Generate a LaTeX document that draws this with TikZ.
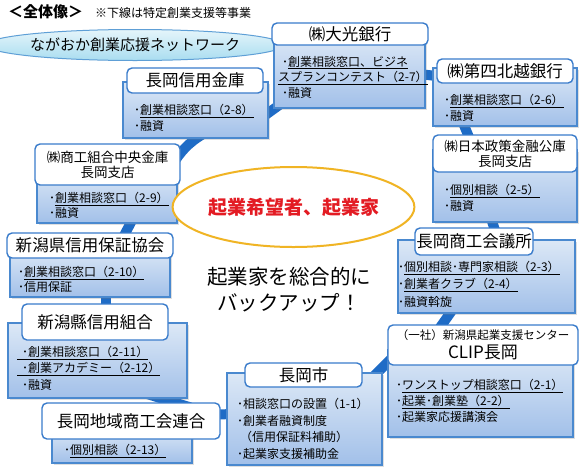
\documentclass[tikz,border=0pt]{standalone}
\usepackage{fontspec}
\setmainfont{Noto Sans CJK JP}
\usetikzlibrary{backgrounds,shadows,shapes.geometric}

\definecolor{bandblue}{HTML}{1F6CC6}
\definecolor{boxline}{HTML}{4A89CF}
\definecolor{bodytop}{HTML}{DCE8F6}
\definecolor{bodybot}{HTML}{A2C0E9}
\definecolor{tabline}{HTML}{3A7CCB}
\definecolor{netfill}{HTML}{A9DDF0}
\definecolor{netline}{HTML}{5E9FD6}
\definecolor{goldline}{HTML}{F0B424}
\definecolor{redtext}{HTML}{E31B23}

\newcommand{\fsz}[2]{\fontsize{#1}{#2}\selectfont}

\begin{document}
\begin{tikzpicture}[x=1pt, y=-1pt,
    body/.style={rectangle, draw=boxline, line width=1.1pt, top color=bodytop, bottom color=bodybot, inner sep=0pt,
        drop shadow={opacity=0.25, shadow xshift=1.5pt, shadow yshift=-1.5pt}},
    head/.style={rectangle, rounded corners=5pt, draw=tabline, line width=1.4pt, fill=white, inner sep=0pt, align=center, font=\fsz{16.5}{19}},
    items/.style={anchor=north west, inner sep=0pt, align=left, font=\fsz{12}{16.5}},
    band/.style={draw=bandblue, line width=10pt}
    ]
    \useasboundingbox (0,0) rectangle (580,469);

    \node[anchor=west, inner sep=0pt, font=\fsz{15}{18}\bfseries] (overview) at (8,12) {＜全体像＞};
    \node[anchor=west, inner sep=0pt, font=\fsz{12}{14}] (note) at (95,13) {※下線は特定創業支援等事業};
    \node[ellipse, draw=netline, line width=1pt, top color=white!70!netfill, bottom color=netfill, minimum width=246, minimum height=31, inner sep=0pt, font=\fsz{15}{18}] (net) at (135,45) {ながおか創業応援ネットワーク};

    \node[body, minimum width=145, minimum height=56] (shinkin) at (195.5,110) {};
    \node[head, minimum width=136, minimum height=25] (shinkin-hd) at (195,80.5) {長岡信用金庫};
    \node[items] (shinkin-tx) at (134,104) {･\underline{創業相談窓口（2-8）}\\･融資};

    \node[body, minimum width=151, minimum height=73] (taiko) at (349.5,71.5) {};
    \node[head, minimum width=156, minimum height=22] (taiko-hd) at (350,34) {㈱大光銀行};
    \node[items, font=\fsz{12}{15.5}] (taiko-tx) at (278,56) {\hspace*{4pt}･\underline{創業相談窓口、ビジネ}\\\underline{スプランコンテスト（2-7）}\\\hspace*{4pt}･融資};

    \node[body, minimum width=144, minimum height=58] (daishi) at (505,97) {};
    \node[head, minimum width=136, minimum height=24] (daishi-hd) at (505,71) {㈱第四北越銀行};
    \node[items] (daishi-tx) at (444,94) {･\underline{創業相談窓口（2-6）}\\･融資};

    \node[body, minimum width=144, minimum height=72] (koko) at (505,186) {};
    \node[head, minimum width=144, minimum height=37, font=\fsz{13.5}{15}] (koko-hd) at (505,153.5) {㈱日本政策金融公庫\\長岡支店};
    \node[items] (koko-tx) at (444,184) {･\underline{個別相談（2-5）}\\･融資};

    \node[body, minimum width=177, minimum height=73] (cci) at (486.5,276.5) {};
    \node[head, minimum width=118, minimum height=27] (cci-hd) at (474,241.5) {長岡商工会議所};
    \node[items, font=\fsz{12}{17.5}] (cci-tx) at (398,261) {･\underline{個別相談･専門家相談（2-3）}\\･\underline{創業者クラブ（2-4）}\\･融資斡旋};

    \node[body, minimum width=185, minimum height=87] (clip) at (480.5,393.5) {};
    \node[head, minimum width=190, minimum height=40] (clip-hd) at (483,345) {{\fsz{11.5}{15}（一社）新潟県起業支援センター}\\{\fsz{17}{17}CLIP長岡}};
    \node[items, font=\fsz{12}{16}] (clip-tx) at (396,379) {･\underline{ワンストップ相談窓口（2-1）}\\･\underline{起業･創業塾（2-2）}\\･起業家応援講演会};

    \node[body, minimum width=155, minimum height=92] (city) at (304.5,419) {};
    \node[head, minimum width=117, minimum height=24] (city-hd) at (303.5,375) {長岡市};
    \node[items, font=\fsz{12}{16.7}] (city-tx) at (237,398) {･相談窓口の設置（1-1）\\･創業者融資制度\\\hspace*{3pt}（信用保証料補助）\\･起業家支援補助金};

    \node[body, minimum width=140, minimum height=35] (rengo) at (122,445.5) {};
    \node[head, minimum width=178, minimum height=36] (rengo-hd) at (131,421) {長岡地域商工会連合};
    \node[items] (rengo-tx) at (64,444) {･\underline{個別相談（2-13）}};

    \node[body, minimum width=179, minimum height=75] (kenshin) at (97.5,360.5) {};
    \node[head, minimum width=146, minimum height=36] (kenshin-hd) at (95,322) {新潟縣信用組合};
    \node[items] (kenshin-tx) at (17,346) {\underline{\hspace*{5pt}･創業相談窓口（2-11）}\\\underline{\hspace*{5pt}･創業アカデミー（2-12）}\\\hspace*{5pt}･融資};

    \node[body, minimum width=160, minimum height=49] (hosho) at (90,272.5) {};
    \node[head, minimum width=166, minimum height=25] (hosho-hd) at (90,245.5) {新潟県信用保証協会};
    \node[items, font=\fsz{12}{15}] (hosho-tx) at (18,266) {･\underline{創業相談窓口（2-10）}\\･信用保証};

    \node[body, minimum width=140, minimum height=53] (shoko) at (107,196.5) {};
    \node[head, minimum width=145, minimum height=41, font=\fsz{13.5}{15}] (shoko-hd) at (107.5,164.5) {㈱商工組合中央金庫\\長岡支店};
    \node[items, font=\fsz{12}{15}] (shoko-tx) at (49,192) {･\underline{創業相談窓口（2-9）}\\･融資};

    \node[ellipse, draw=goldline, line width=2pt, fill=white, minimum width=196, minimum height=80, inner sep=0pt, font=\fsz{19}{22}\bfseries, text=redtext] (seeker) at (293.5,207) {起業希望者、起業家};
    \node[align=center, inner sep=0pt, font=\fsz{20.5}{26}] (backup) at (289,290) {起業家を総合的に\\バックアップ！};

    \begin{scope}[on background layer]
      \fill[white] (0,0) rectangle (580,469);
      \draw[band] ([shift={(-10,10)}]shinkin.east) -- ([shift={(12,-8)}]taiko.south west);
      \draw[band] ([shift={(-10,2)}]taiko.east) -- ([shift={(12,-20)}]daishi.west);
      \draw[band] ([shift={(-45,-11)}]daishi.south) -- ([shift={(-33,-5)}]koko.north);
      \draw[band] ([shift={(-15,-7)}]koko.south) -- ([shift={(10,-5)}]cci.north);
      \draw[band] ([shift={(-31,-8)}]cci.south) -- ([shift={(-44,-17)}]clip.north);
      \draw[band] ([shift={(-12,7)}]city.north east) -- ([shift={(7,-38)}]clip.west);
      \draw[band] ([shift={(8,-5)}]city.west) -- ([shift={(23,-31)}]rengo.east);
      \draw[band] ([shift={(-2,-20)}]rengo.north east) -- ([shift={(22.5,-13)}]kenshin.south);
      \draw[band] ([shift={(16,-7)}]hosho.south) -- ([shift={(8.5,-11)}]kenshin.north);
      \draw[band] ([shift={(32,-8)}]hosho.north) -- ([shift={(27,-7)}]shoko.south);
      \draw[band] ([shift={(-5,-5)}]shoko.north east) to[bend left=15] ([shift={(14,-8)}]shinkin.south);
    \end{scope}
\end{tikzpicture}
\end{document}
